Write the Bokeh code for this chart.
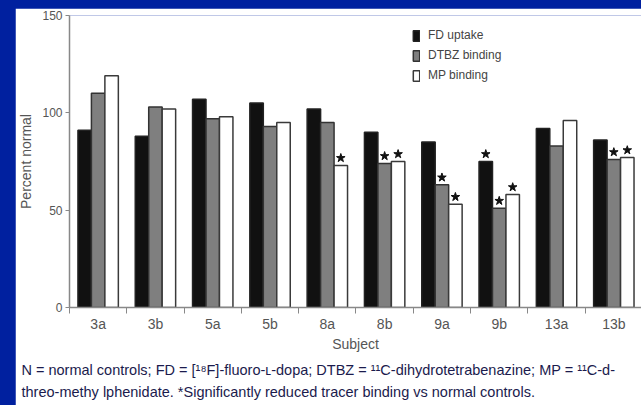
import numpy as np
from bokeh.plotting import figure
from bokeh.models import (FixedTicker, Legend, LegendItem, ColumnDataSource,
                          GlobalInlineStyleSheet, Range1d, Title)
from bokeh.embed import file_html
from bokeh.resources import INLINE

subjects = ["3a", "3b", "5a", "5b", "8a", "8b", "9a", "9b", "13a", "13b"]
fd_uptake = [91, 88, 107, 105, 102, 90, 85, 75, 92, 86]
dtbz_binding = [110, 103, 97, 93, 95, 74, 63, 51, 83, 76]
mp_binding = [119, 102, 98, 95, 73, 75, 53, 58, 96, 77]
sig_fd = [0, 0, 0, 0, 0, 0, 0, 1, 0, 0]
sig_dtbz = [0, 0, 0, 0, 0, 1, 1, 1, 0, 1]
sig_mp = [0, 0, 0, 0, 1, 1, 1, 1, 0, 1]
y_ticks = [0, 50, 100, 150]
series_names = ["FD uptake", "DTBZ binding", "MP binding"]
caption_lines = [
    "N = normal controls; FD = [\u00b9\u2078F]-fluoro-\u029f-dopa; DTBZ = \u00b9\u00b9C-dihydrotetrabenazine; MP = \u00b9\u00b9C-d-",
    "threo-methy lphenidate. *Significantly reduced tracer binding vs normal controls.",
]

BLUE = "#00209F"
FONT = "Liberation Sans"
GRAY = "#555555"

css = GlobalInlineStyleSheet(css=f"html, body {{ background-color: {BLUE}; overflow: hidden; }} "
                                 f"body {{ margin: 8px 0 0 15px !important; }}")

idx = np.arange(len(subjects))
p = figure(width=626, height=397, output_backend="svg", toolbar_location=None,
           x_range=Range1d(-0.5, 9.483), y_range=Range1d(0, 150),
           min_border_left=54, min_border_right=0, min_border_top=7, min_border_bottom=97,
           stylesheets=[css])
p.border_fill_color = "white"
p.background_fill_color = "white"
p.outline_line_color = None
p.grid.visible = False

bw = 0.235
colors = ["#111111", "#7f7f7f", "#ffffff"]
lines = ["#222222", "#333333", "#3a3a3a"]
renderers = []
for k, (vals, sig) in enumerate([(fd_uptake, sig_fd), (dtbz_binding, sig_dtbz), (mp_binding, sig_mp)]):
    xs = idx + (k - 1) * bw
    src = ColumnDataSource(dict(x=xs, top=vals))
    r = p.vbar(x="x", top="top", width=bw, bottom=0, source=src,
               fill_color=colors[k], line_color=lines[k], line_width=1.5)
    renderers.append(r)
    sx = [x for x, s in zip(xs, sig) if s]
    sy = [v + 3.8 for v, s in zip(vals, sig) if s]
    p.scatter(sx, sy, marker="star", size=9, fill_color="#111111", line_color="#111111")

legend = Legend(items=[LegendItem(label=n, renderers=[r]) for n, r in zip(series_names, renderers)],
                location=(343, 225), glyph_width=8, glyph_height=13, label_height=13,
                spacing=6, padding=0, margin=0, label_standoff=8,
                label_text_font=FONT, label_text_font_size="12px", label_text_color="#444444",
                background_fill_alpha=0, border_line_color=None)
p.add_layout(legend, "center")

# x axis
xa = p.xaxis[0]
xa.ticker = FixedTicker(ticks=list(idx), minor_ticks=[i - 0.5 for i in range(len(subjects) + 1)])
xa.major_label_overrides = {int(i): s for i, s in zip(idx, subjects)}
xa.major_tick_out = 0
xa.major_tick_in = 0
xa.minor_tick_out = 6
xa.minor_tick_in = 0
xa.major_label_standoff = 2
xa.axis_label = "Subject"
xa.axis_label_standoff = 1
for ax in [xa, p.yaxis[0]]:
    ax.axis_line_color = "#888888"
    ax.axis_line_width = 1.5
    ax.major_tick_line_color = "#888888"
    ax.minor_tick_line_color = "#888888"
    ax.major_label_text_font = FONT
    ax.major_label_text_font_size = "14px"
    ax.major_label_text_color = GRAY
    ax.axis_label_text_font = FONT
    ax.axis_label_text_font_size = "14px"
    ax.axis_label_text_color = GRAY
    ax.axis_label_text_font_style = "normal"

ya = p.yaxis[0]
ya.ticker = FixedTicker(ticks=y_ticks, minor_ticks=[])
ya.major_label_text_font_size = "12px"
ya.major_tick_out = 4
ya.major_tick_in = 0
ya.minor_tick_out = 0
ya.major_label_standoff = 3
ya.axis_label = "Percent normal"
ya.axis_label_standoff = 5

p.add_layout(Title(text="\n".join(caption_lines), align="left", offset=-48, text_font=FONT,
                   text_font_size="14.5px", text_font_style="normal", text_line_height=1.35,
                   text_color="#1b1b4d", standoff=11), "below")

open("out.html", "w").write(file_html(p, INLINE))
